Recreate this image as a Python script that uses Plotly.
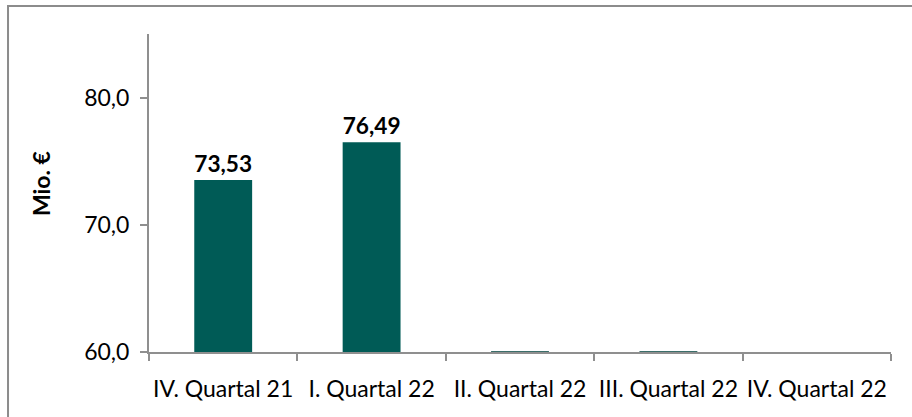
import plotly.graph_objects as go

# Quarterly figures in Mio. €
quarters = ["IV. Quartal 21", "I. Quartal 22", "II. Quartal 22", "III. Quartal 22", "IV. Quartal 22"]
values = [73.53, 76.49, 0, 0, None]

Y_MIN, Y_MAX = 60, 85
y_ticks = [60, 70, 80]

BAR_COLOR = "#005B56"
AXIS_COLOR = "#8f8f8f"
FONT = "Lato"
BAR_WIDTH = 0.39

labels = [
    f"{v:.2f}".replace(".", ",") if (v is not None and v > Y_MIN) else ""
    for v in values
]

fig = go.Figure()
fig.add_trace(go.Bar(
    x=quarters,
    y=values,
    width=BAR_WIDTH,
    marker=dict(color=BAR_COLOR, line=dict(width=0)),
    text=labels,
    textposition="outside",
    textfont=dict(family=FONT, size=23, color="#000000", weight="bold"),
    cliponaxis=False,
    hoverinfo="skip",
))

# Values below the axis floor collapse onto the baseline as a thin bar edge
for i, v in enumerate(values):
    if v is not None and v <= Y_MIN:
        fig.add_shape(type="line", xref="x", yref="y",
                      x0=i - BAR_WIDTH / 2, x1=i + BAR_WIDTH / 2, y0=Y_MIN, y1=Y_MIN,
                      line=dict(color="#3b6e6a", width=2), layer="above")

# Chart frame
fig.add_shape(type="rect", xref="paper", yref="paper",
              x0=-0.19, x1=1.2, y0=-0.4, y1=1.088,
              line=dict(color="#8c8c8c", width=2), fillcolor="rgba(0,0,0,0)")

fig.add_annotation(
    text="Mio. €", xref="paper", yref="paper", x=-0.1456, y=0.531,
    xanchor="center", yanchor="middle",
    textangle=-90, showarrow=False,
    font=dict(family=FONT, size=23, color="#000000", weight="bold"),
)

fig.update_layout(
    width=912, height=417,
    margin=dict(l=149, r=21, t=34, b=65),
    paper_bgcolor="white", plot_bgcolor="white",
    separators=",.",
    showlegend=False,
    font=dict(family=FONT, color="#000000"),
)
fig.update_xaxes(
    type="category", automargin=False, tickangle=0,
    showline=True, linecolor=AXIS_COLOR, linewidth=2,
    ticks="outside", tickson="boundaries", ticklen=7, tickwidth=2, tickcolor=AXIS_COLOR,
    tickfont=dict(family=FONT, size=23, color="#000000"),
    ticklabelstandoff=15,
    showgrid=False, zeroline=False,
)
fig.update_yaxes(
    range=[Y_MIN, Y_MAX], tickvals=y_ticks, tickformat=".1f", automargin=False,
    showline=True, linecolor=AXIS_COLOR, linewidth=2,
    ticks="outside", ticklen=7, tickwidth=2, tickcolor=AXIS_COLOR,
    tickfont=dict(family=FONT, size=23, color="#000000"),
    ticklabelstandoff=6,
    showgrid=False, zeroline=False,
)

fig.write_html("out.html")
